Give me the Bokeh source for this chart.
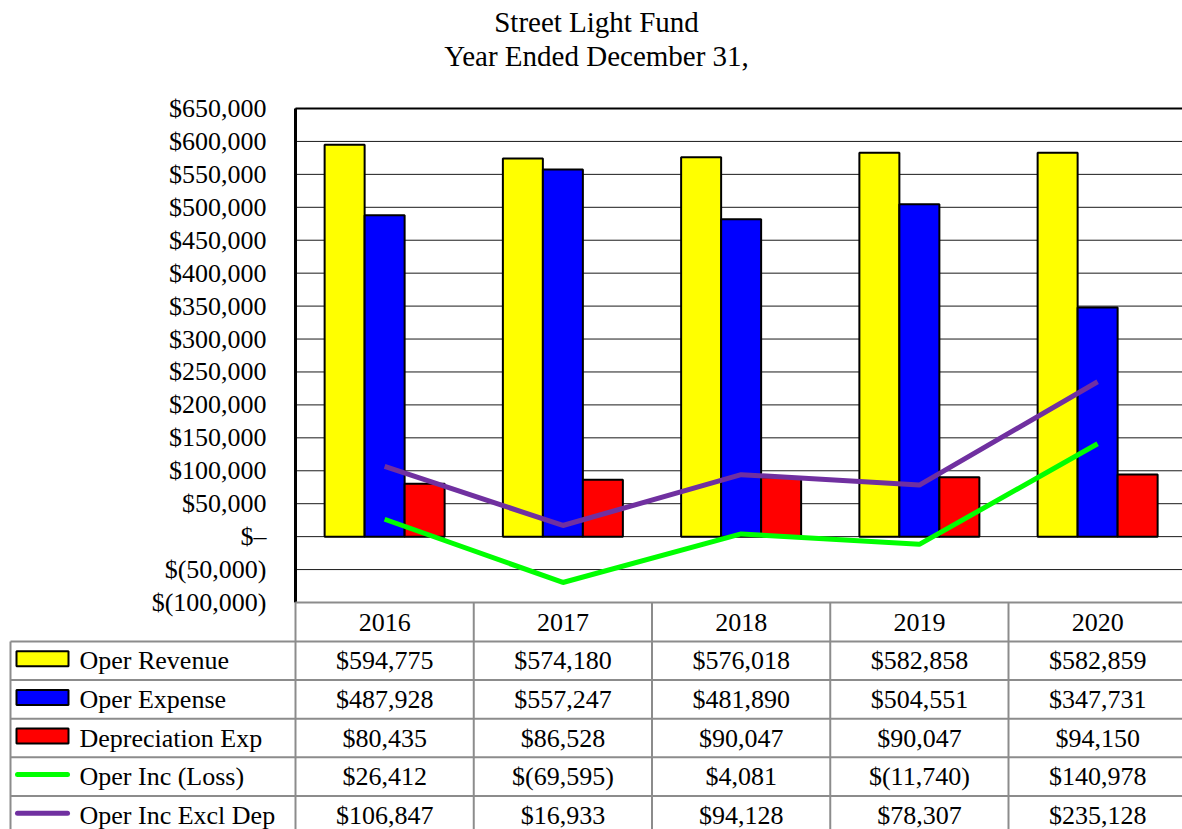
from bokeh.plotting import figure
from bokeh.models import Range1d, ColumnDataSource
from bokeh.embed import file_html
from bokeh.resources import INLINE
from bokeh.core.properties import value
from bokeh.transform import dodge

# ---------------- data ----------------
title_lines = ["Street Light Fund", "Year Ended December 31,"]
years = ["2016", "2017", "2018", "2019", "2020"]
oper_revenue = [594775, 574180, 576018, 582858, 582859]
oper_expense = [487928, 557247, 481890, 504551, 347731]
depreciation_exp = [80435, 86528, 90047, 90047, 94150]
oper_inc_loss = [26412, -69595, 4081, -11740, 140978]
oper_inc_excl_dep = [106847, 16933, 94128, 78307, 235128]
series_names = ["Oper Revenue", "Oper Expense", "Depreciation Exp",
                "Oper Inc (Loss)", "Oper Inc Excl Dep"]
y_ticks = list(range(-100000, 650001, 50000))

# ---------------- layout constants (pixels) ----------------
FONT = "Liberation Serif"
W, H = 1182, 829
FRAME_L, FRAME_T, FRAME_B = 295, 108, 602
COL = 178.25                       # px per year column
Y_MIN, Y_MAX = y_ticks[0], y_ticks[-1]
PX_PER_VAL = (FRAME_B - FRAME_T) / (Y_MAX - Y_MIN)
ROW0, ROW_H = 641, 38.6            # table body rows
TABLE_L = 10
BW = 40 / COL                      # bar width, column units
GRAY = "#8c8c8c"
C_REV, C_EXP, C_DEP, C_INC, C_EXCL = "#FFFF00", "#0000FF", "#FF0000", "#00FF00", "#7030A0"
FS = "26px"


def money(v):
    if v == 0:
        return "$\u2013"
    if v < 0:
        return "$({:,})".format(-v)
    return "${:,}".format(v)


x_rng = Range1d(-FRAME_L / COL, (W - FRAME_L) / COL)
y_rng = Range1d(Y_MIN - (H - FRAME_B) / PX_PER_VAL, Y_MAX + FRAME_T / PX_PER_VAL)

p = figure(width=W, height=H, x_range=x_rng, y_range=y_rng,
           extra_x_ranges={"px": Range1d(0, W)}, extra_y_ranges={"px": Range1d(H, 0)},
           toolbar_location=None, output_backend="svg", x_axis_type=None, y_axis_type=None,
           min_border=0, outline_line_color=None)
p.xgrid.visible = False
p.ygrid.visible = False

x_start, x_end = x_rng.start, x_rng.end

# ---------------- title ----------------
p.text(x=[596, 596], y=[21, 55], text=title_lines, x_range_name="px", y_range_name="px",
       text_font=value(FONT), text_font_size="29px", text_align="center",
       text_baseline="middle", text_color="black")

# ---------------- gridlines & frame ----------------
p.segment(x0=[0] * len(y_ticks), y0=y_ticks, x1=[x_end] * len(y_ticks), y1=y_ticks,
          line_color="#1a1a1a", line_width=1)

# y tick labels (value axis)
p.text(x=[FRAME_L - 29] * len(y_ticks), y=y_ticks, text=[money(t) for t in y_ticks],
       x_range_name="px", text_font=value(FONT), text_font_size=FS,
       text_align="right", text_baseline="middle", text_color="black")

# ---------------- bars & lines ----------------
centers = [i + 0.5 for i in range(len(years))]
src = ColumnDataSource(dict(x=centers, rev=oper_revenue, exp=oper_expense, dep=depreciation_exp,
                            inc=oper_inc_loss, excl=oper_inc_excl_dep))
p.vbar(x=dodge("x", -BW), top="rev", bottom=0, width=BW, fill_color=C_REV,
       line_color="black", line_width=2, source=src)
p.vbar(x="x", top="exp", bottom=0, width=BW, fill_color=C_EXP,
       line_color="black", line_width=2, source=src)
p.vbar(x=dodge("x", BW), top="dep", bottom=0, width=BW, fill_color=C_DEP,
       line_color="black", line_width=2, source=src)
p.line("x", "inc", line_color=C_INC, line_width=5, source=src)
p.line("x", "excl", line_color=C_EXCL, line_width=5, source=src)

# frame borders (left & top black)
p.segment(x0=[0], y0=[Y_MIN], x1=[0], y1=[Y_MAX], line_color="black", line_width=3)
p.segment(x0=[0], y0=[Y_MAX], x1=[x_end], y1=[Y_MAX], line_color="black", line_width=2)

# ---------------- data table ----------------
n_rows = len(series_names)
bounds = list(range(len(years) + 1))
row_lines = [ROW0 + i * ROW_H for i in range(n_rows + 1)]
row_c = [ROW0 + (i + 0.5) * ROW_H for i in range(n_rows)]

# header row: top rule (frame bottom) and column separators
p.segment(x0=[0], y0=[FRAME_B], x1=[x_end], y1=[FRAME_B], y_range_name="px",
          line_color=GRAY, line_width=2)
p.segment(x0=bounds, y0=[FRAME_B] * len(bounds), x1=bounds, y1=[H + 20] * len(bounds),
          y_range_name="px", line_color=GRAY, line_width=2)
# body rows
p.segment(x0=[TABLE_L] * len(row_lines), y0=row_lines, x1=[W] * len(row_lines), y1=row_lines,
          x_range_name="px", y_range_name="px", line_color=GRAY, line_width=2)
p.segment(x0=[TABLE_L], y0=[ROW0], x1=[TABLE_L], y1=[H + 20],
          x_range_name="px", y_range_name="px", line_color=GRAY, line_width=2)

# year header labels
p.text(x=centers, y=[(FRAME_B + ROW0) / 2] * len(years), text=years, y_range_name="px",
       text_font=value(FONT), text_font_size=FS, text_align="center",
       text_baseline="middle", text_color="black")

# legend swatches
p.rect(x=[42] * 3, y=[c - 2 for c in row_c[:3]], width=52, height=15,
       x_range_name="px", y_range_name="px",
       fill_color=[C_REV, C_EXP, C_DEP], line_color="black", line_width=2)
for yy, c in zip(row_c[3:], [C_INC, C_EXCL]):
    p.line(x=[17, 67], y=[yy - 2, yy - 2], x_range_name="px", y_range_name="px",
           line_color=c, line_width=5, line_cap="round")

p.text(x=[79] * n_rows, y=row_c, text=series_names, x_range_name="px", y_range_name="px",
       text_font=value(FONT), text_font_size=FS, text_align="left",
       text_baseline="middle", text_color="black")

all_series = [oper_revenue, oper_expense, depreciation_exp, oper_inc_loss, oper_inc_excl_dep]
tx, ty, tt = [], [], []
for r, vals in enumerate(all_series):
    for j, v in enumerate(vals):
        tx.append(centers[j])
        ty.append(row_c[r])
        tt.append(money(v))
p.text(x=tx, y=ty, text=tt, y_range_name="px", text_font=value(FONT), text_font_size=FS,
       text_align="center", text_baseline="middle", text_color="black")

open("out.html", "w").write(file_html(p, INLINE))
